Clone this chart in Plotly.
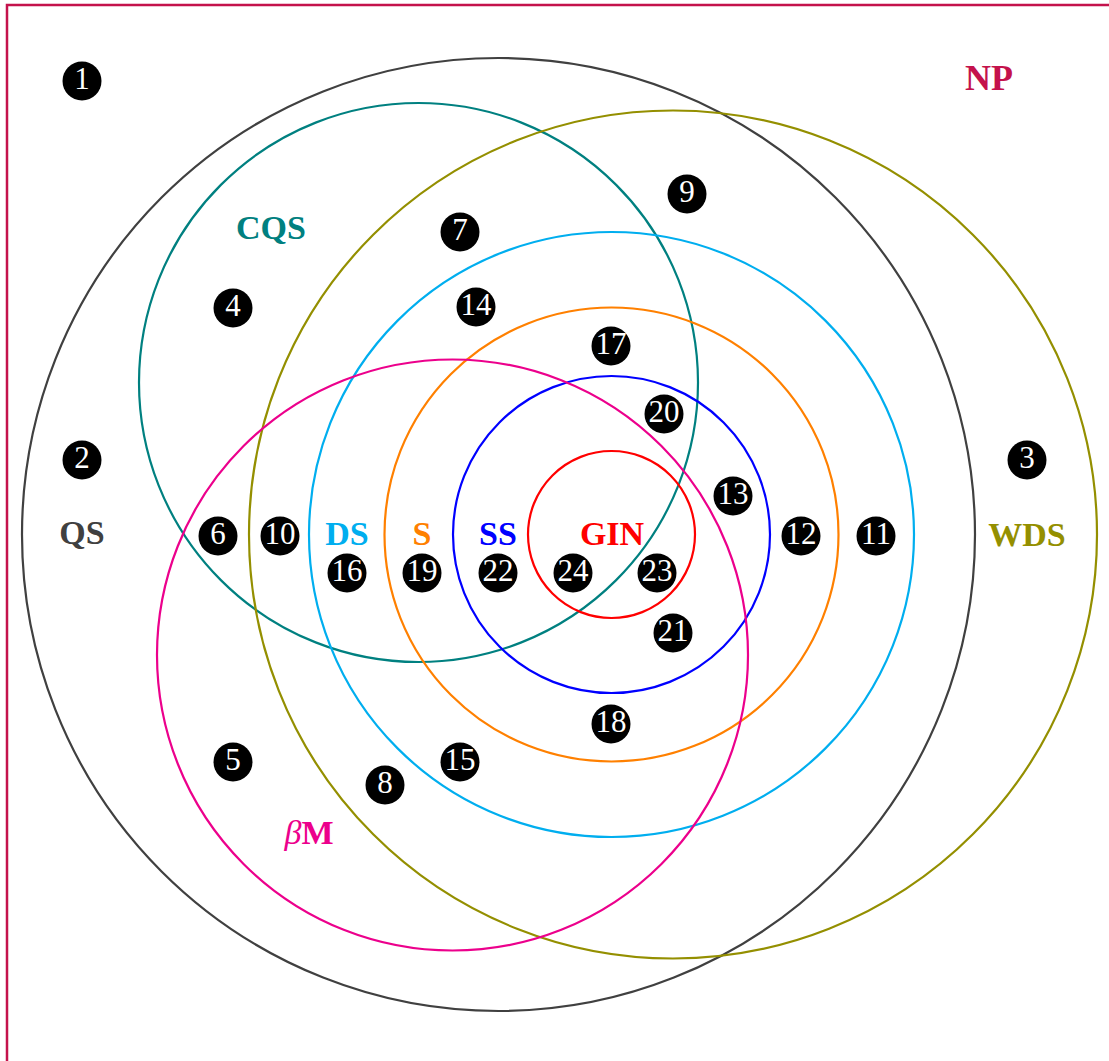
import plotly.graph_objects as go

# --- data: sets (circles) in picture coordinates ---
set_names = ["QS", "CQS", "WDS", "DS", "S", "SS", "GIN", "βM"]
set_cx = [498.5, 418.5, 673, 611.5, 611.5, 611.5, 611.5, 452.5]
set_cy = [534.5, 382.5, 534.5, 534.5, 534.5, 534.5, 534.5, 655]
set_r = [476.5, 279.5, 424, 302.5, 227, 158.5, 83.5, 295.5]

# --- labels ---
label_text = ["<b>NP</b>", "<b>CQS</b>", "<b>QS</b>", "<b>WDS</b>", "<b>DS</b>",
              "<b>S</b>", "<b>SS</b>", "<b>GIN</b>", "<i>β</i><b>M</b>"]
label_x = [989, 271, 82, 1027, 347, 422, 498, 612, 309]
label_y = [81, 230, 535, 537, 536, 536, 536, 536, 835]

# --- numbered regions ---
num_ids = list(range(1, 25))
num_x = [82, 82, 1027, 233, 233, 218, 460, 385, 687, 280, 876, 801, 733, 476,
         460, 347, 611, 611, 422, 664, 673, 498, 657, 573]
num_y = [81, 460, 460, 308, 762, 536, 232, 785, 194, 536, 536, 536, 496, 307,
         762, 573, 346, 724, 573, 414, 633, 573, 573, 573]

# --- styles ---
set_colors = ["#404040", "#008080", "#948F00", "#00AEEF", "#FF8000", "#0000FF",
              "#FF0000", "#EC008C"]
np_color = "#C4124C"
label_colors = [np_color, "#008080", "#404040", "#948F00", "#00AEEF", "#FF8000",
                "#0000FF", "#FF0000", "#EC008C"]
label_sizes = [36, 34, 34, 34, 34, 34, 34, 34, 34]

W, H = 1109, 1061
fig = go.Figure()

shapes = [dict(type="rect", xref="x", yref="y", x0=7, y0=5, x1=W + 20, y1=H + 20,
               line=dict(color=np_color, width=2.5), layer="below")]
for cx, cy, r, c in zip(set_cx, set_cy, set_r, set_colors):
    shapes.append(dict(type="circle", xref="x", yref="y",
                       x0=cx - r, x1=cx + r, y0=cy - r, y1=cy + r,
                       line=dict(color=c, width=2.2), layer="below"))

fig.add_trace(go.Scatter(
    x=label_x, y=label_y, mode="text",
    text=label_text,
    textposition="middle center",
    textfont=dict(family="Liberation Serif", size=label_sizes, color=label_colors),
    hoverinfo="skip", showlegend=False))

fig.add_trace(go.Scatter(
    x=num_x, y=num_y, mode="markers+text",
    text=[str(i) for i in num_ids],
    textposition="middle center",
    marker=dict(size=39, color="black", line=dict(width=0)),
    textfont=dict(family="Liberation Serif", size=31, color="white"),
    hoverinfo="skip", showlegend=False))

fig.update_layout(
    width=W, height=H,
    margin=dict(l=0, r=0, t=0, b=0),
    paper_bgcolor="white", plot_bgcolor="white",
    shapes=shapes,
    xaxis=dict(range=[0, W], visible=False, fixedrange=True),
    yaxis=dict(range=[H, 0], visible=False, fixedrange=True),
)

fig.write_html(
    "out.html",
    config={"displayModeBar": False},
    post_script="document.body.style.margin='0';document.body.style.overflow='hidden';",
)
